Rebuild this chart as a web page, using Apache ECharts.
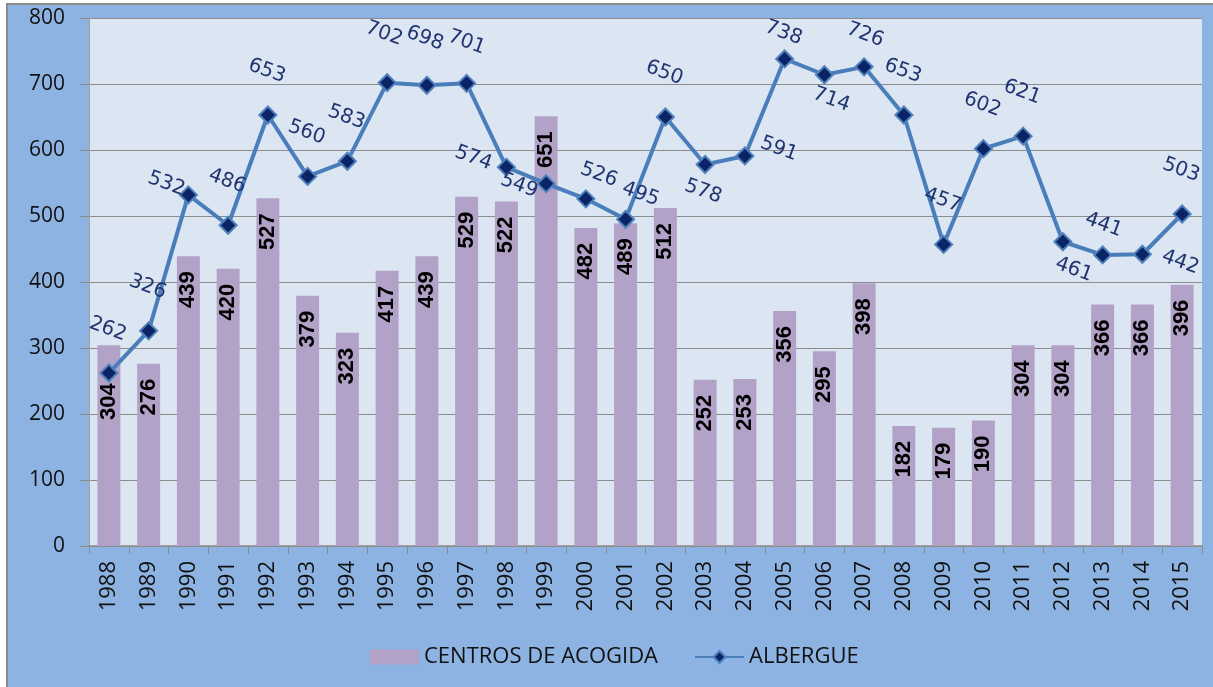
<!DOCTYPE html>
<html>
<head>
<meta charset="utf-8">
<script src="https://cdn.jsdelivr.net/npm/echarts@6/dist/echarts.min.js"></script>
<style>
  html, body { margin: 0; padding: 0; background: #ffffff; }
  #wrap { position: relative; width: 1213px; height: 687px; overflow: hidden; }
  #main { position: absolute; left: 6px; top: 3px; width: 1207px; height: 684px;
          border-left: 2px solid #8a8a8a; border-top: 2px solid #8a8a8a; box-sizing: border-box; }
</style>
</head>
<body>
<div id="wrap"><div id="main"></div></div>
<script>
// datos
const years = ["1988","1989","1990","1991","1992","1993","1994","1995","1996","1997","1998","1999","2000","2001",
               "2002","2003","2004","2005","2006","2007","2008","2009","2010","2011","2012","2013","2014","2015"];
const centrosAcogida = [304,276,439,420,527,379,323,417,439,529,522,651,482,489,
                        512,252,253,356,295,398,182,179,190,304,304,366,366,396];
const albergue = [262,326,532,486,653,560,583,702,698,701,574,549,526,495,
                  650,578,591,738,714,726,653,457,602,621,461,441,442,503];

// donde cae cada etiqueta de la linea (px respecto al punto), por defecto encima
const labelNudge = {
    "1990": [-22, -11], "1995": [-3, -49], "1996": [-2, -47], "1997": [0, -41],
    "1998": [-33, -9], "1999": [-27, 2], "2000": [13, -24], "2001": [15, -25],
    "2003": [-2, 27], "2004": [34, -7], "2005": [-1, -26], "2006": [7, 25],
    "2007": [1, -32], "2012": [11, 28], "2013": [1, -30], "2014": [38, 8]
};
const labelRotate = -20;

// el offset de la etiqueta va en ejes girados, hay que deshacer el giro
function unrotate(p){
    let t = -labelRotate * Math.PI / 180;
    return [p[0] * Math.cos(t) + p[1] * Math.sin(t), -p[0] * Math.sin(t) + p[1] * Math.cos(t)];
}

let albergueData = albergue.map((v, i) => ({
    value: v,
    label: { offset: unrotate(labelNudge[years[i]] || [-1, -44]) }
}));

let centrosData = centrosAcogida.map((v, i) => (i === 0 ? { value: v, label: { distance: 38 } } : v));

let chart = echarts.init(document.getElementById("main"));
chart.setOption({
    backgroundColor: "#8DB3E2",
    animation: false,
    grid: {
        left: 81, right: 11, top: 13, bottom: 141,
        show: true, backgroundColor: "#DCE6F2", borderWidth: 0
    },
    legend: {
        left: 357, bottom: 14,
        itemWidth: 49, itemHeight: 15, itemGap: 36,
        textStyle: { fontFamily: "Open Sans", fontSize: 22, color: "#111" },
        data: [
            { name: "CENTROS DE ACOGIDA", icon: "rect" },
            { name: "ALBERGUE" }
        ]
    },
    xAxis: {
        type: "category",
        data: years,
        axisLine: { lineStyle: { color: "#8C8C8C", width: 1.5 } },
        axisTick: { show: true, length: 8, lineStyle: { color: "#8C8C8C" } },
        axisLabel: { rotate: 90, interval: 0, margin: 15, fontFamily: "Open Sans", fontSize: 22, color: "#111" }
    },
    yAxis: {
        type: "value",
        min: 0, max: 800, interval: 100,
        axisLine: { show: true, lineStyle: { color: "#A0A0A0" } },
        axisTick: { show: true, length: 9, lineStyle: { color: "#8C8C8C" } },
        axisLabel: { margin: 24, fontFamily: "Open Sans", fontSize: 21, color: "#111" },
        splitLine: { lineStyle: { color: "#8C8C8C", width: 1.2 } }
    },
    series: [
        {
            name: "CENTROS DE ACOGIDA",
            type: "bar",
            data: centrosData,
            barWidth: 23,
            itemStyle: { color: "#B3A2C7" },
            label: {
                show: true, position: "insideTop", rotate: 90, distance: 15,
                align: "right", verticalAlign: "middle",
                fontFamily: "Liberation Sans", fontWeight: "bold", fontSize: 22, color: "#000"
            }
        },
        {
            name: "ALBERGUE",
            type: "line",
            data: albergueData,
            z: 5,
            symbol: "diamond",
            symbolSize: 17,
            lineStyle: { color: "#4A7EBB", width: 4 },
            itemStyle: { color: "#0B2466", borderColor: "#4F81BD", borderWidth: 2 },
            label: {
                show: true, position: "inside", rotate: labelRotate,
                fontFamily: "DejaVu Sans", fontSize: 20, color: "#1F3470"
            }
        }
    ]
});
</script>
</body>
</html>
